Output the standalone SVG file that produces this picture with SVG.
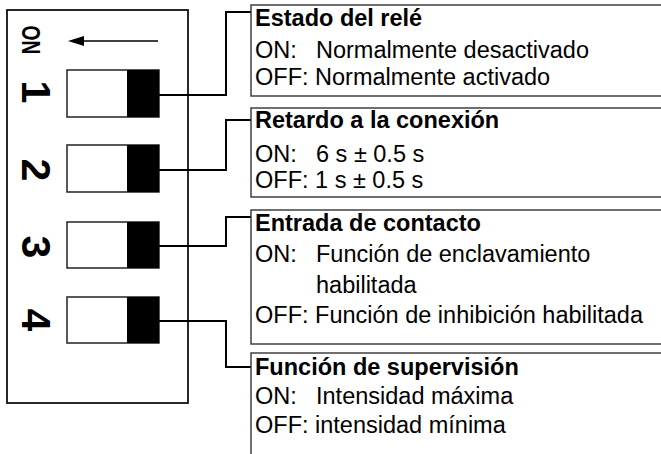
<svg xmlns="http://www.w3.org/2000/svg" width="661" height="454" viewBox="0 0 661 454">
<style>
.frame{fill:#fff;stroke:#111;stroke-width:1.8}
.sw{fill:#fff;stroke:#222;stroke-width:1.5}
.knob{fill:#000}
.box{fill:#fff;stroke:#333;stroke-width:1.4}
.conn{fill:none;stroke:#000;stroke-width:2}
.t{font-family:"Liberation Sans",Arial,sans-serif;font-size:23.5px;fill:#000}
.b{font-weight:bold}
.dig{font-family:"Liberation Sans",Arial,sans-serif;font-weight:bold;font-size:41px;fill:#000}
</style>
<rect fill="#fff" x="0" y="0" width="661" height="454"/>
<g id="switch-block">
<rect class="frame" x="7" y="10" width="181" height="393"/>
<text class="dig" style="font-size:26px" transform="translate(22,40) rotate(90) scale(0.74,1)" text-anchor="middle">ON</text>
<line x1="83" y1="41" x2="158" y2="41" stroke="#000" stroke-width="1.6"/>
<polygon points="68,41 84,36 84,46" fill="#000"/>
</g>
<g id="switch1">
<rect class="sw" x="67" y="70" width="92" height="47"/>
<rect class="knob" x="127" y="70" width="32" height="47"/>
<text class="dig" transform="translate(22,92) rotate(90)" text-anchor="middle">1</text>
</g>
<g id="switch2">
<rect class="sw" x="67" y="145" width="92" height="47"/>
<rect class="knob" x="127" y="145" width="32" height="47"/>
<text class="dig" transform="translate(22,170) rotate(90)" text-anchor="middle">2</text>
</g>
<g id="switch3">
<rect class="sw" x="67" y="222" width="92" height="46"/>
<rect class="knob" x="127" y="222" width="32" height="46"/>
<text class="dig" transform="translate(22,247) rotate(90)" text-anchor="middle">3</text>
</g>
<g id="switch4">
<rect class="sw" x="67" y="297" width="92" height="46"/>
<rect class="knob" x="127" y="297" width="32" height="46"/>
<text class="dig" transform="translate(22,320) rotate(90)" text-anchor="middle">4</text>
</g>
<g id="connectors">
<polyline class="conn" points="159,95 226,95 226,12 252,12"/>
<polyline class="conn" points="159,170 226,170 226,120 252,120"/>
<polyline class="conn" points="159,246 226,246 226,217 252,217"/>
<polyline class="conn" points="159,321 226,321 226,367 252,367"/>
</g>
<g id="box1">
<rect class="box" x="251" y="5" width="420" height="91"/>
<text class="t b" x="255" y="26">Estado del relé</text>
<text class="t" x="255" y="58">ON:</text>
<text class="t" x="316" y="58">Normalmente desactivado</text>
<text class="t" x="255" y="85">OFF: Normalmente activado</text>
</g>
<g id="box2">
<rect class="box" x="251" y="108" width="420" height="89"/>
<text class="t b" x="255" y="128">Retardo a la conexión</text>
<text class="t" x="255" y="162">ON:</text>
<text class="t" x="316" y="162">6 s ± 0.5 s</text>
<text class="t" x="255" y="188">OFF: 1 s ± 0.5 s</text>
</g>
<g id="box3">
<rect class="box" x="251" y="210" width="420" height="134"/>
<text class="t b" x="255" y="231">Entrada de contacto</text>
<text class="t" x="255" y="262">ON:</text>
<text class="t" x="316" y="262">Función de enclavamiento</text>
<text class="t" x="316" y="293">habilitada</text>
<text class="t" x="255" y="323">OFF: Función de inhibición habilitada</text>
</g>
<g id="box4">
<rect class="box" x="251" y="353" width="420" height="120"/>
<text class="t b" x="255" y="375">Función de supervisión</text>
<text class="t" x="255" y="404">ON:</text>
<text class="t" x="316" y="404">Intensidad máxima</text>
<text class="t" x="255" y="433">OFF: intensidad mínima</text>
</g>
</svg>
